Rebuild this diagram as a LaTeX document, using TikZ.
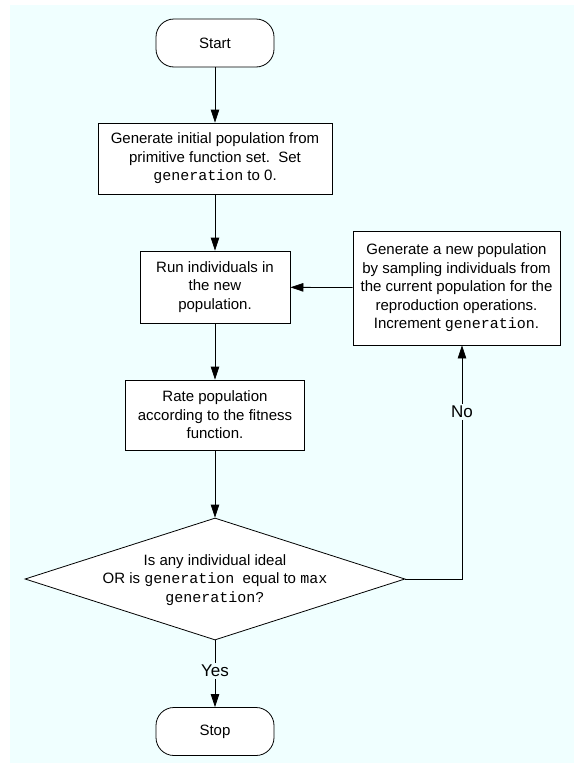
\documentclass[tikz,border=0pt]{standalone}
\usepackage{fontspec}
\setmainfont{Liberation Sans}
\setmonofont{Liberation Mono}
\usetikzlibrary{shapes.geometric,arrows.meta}
\definecolor{pagebg}{RGB}{240,255,255}
\begin{document}
\begin{tikzpicture}[x=1pt,y=-1pt,
  every node/.style={font=\fontsize{15}{18.5}\selectfont, align=center},
  term/.style={draw, line width=0.8pt, fill=white, rounded corners=18pt,
    minimum width=118pt, minimum height=48pt, inner sep=0pt},
  proc/.style={draw, line width=0.8pt, fill=white, inner sep=0pt},
  decision/.style={draw, line width=0.8pt, fill=white, diamond, inner sep=0pt,
    minimum width=380pt, minimum height=122pt},
  arr/.style={line width=0.8pt, -{Triangle[length=13pt,width=8.5pt]}},
  lbl/.style={fill=pagebg, inner sep=2pt, font=\fontsize{17}{20}\selectfont}]
  % page and background panel
  \useasboundingbox (0,0) rectangle (574,763);
  \fill[white] (0,0) rectangle (574,763);
  \fill[pagebg] (10,5) rectangle (574,763);

  % nodes
  \node[term] (start) at (215,43) {Start};
  \node[proc, minimum width=234pt, minimum height=71pt] (init) at (215,158.5)
    {Generate initial population from\\primitive function set.\ \ Set\\\texttt{generation} to 0.};
  \node[proc, minimum width=150pt, minimum height=72pt] (run) at (215,287)
    {Run individuals in\\the new\\population.};
  \node[proc, minimum width=207pt, minimum height=114pt] (newpop) at (456.5,288)
    {Generate a new population\\by sampling individuals from\\the current population for the\\reproduction operations.\\Increment \texttt{generation}.};
  \node[proc, minimum width=179pt, minimum height=70pt] (rate) at (215,415)
    {Rate population\\according to the fitness\\function.};
  \node[decision] (dec) at (215,579) {};
  \node (dectext) at (215,580)
    {Is any individual ideal\\OR is \texttt{generation}\ \ equal to \texttt{max}\\\texttt{generation?}};
  \node[term] (stop) at (215,731.5) {Stop};

  % connectors
  \draw[arr] (start) -- (init);
  \draw[arr] (init) -- (run);
  \draw[arr] (run) -- (rate);
  \draw[arr] (rate) -- (dec.north);
  \draw[arr] (newpop) -- (run);
  \coordinate (nocorner) at (462,579);
  \draw[arr] (dec.east) -- (nocorner) -- (nocorner |- newpop.south);
  \node[lbl] (no) at (462,412) {No};
  \draw[arr] (dec.south) -- (stop);
  \node[lbl] (yes) at (215,671) {Yes};
\end{tikzpicture}
\end{document}
